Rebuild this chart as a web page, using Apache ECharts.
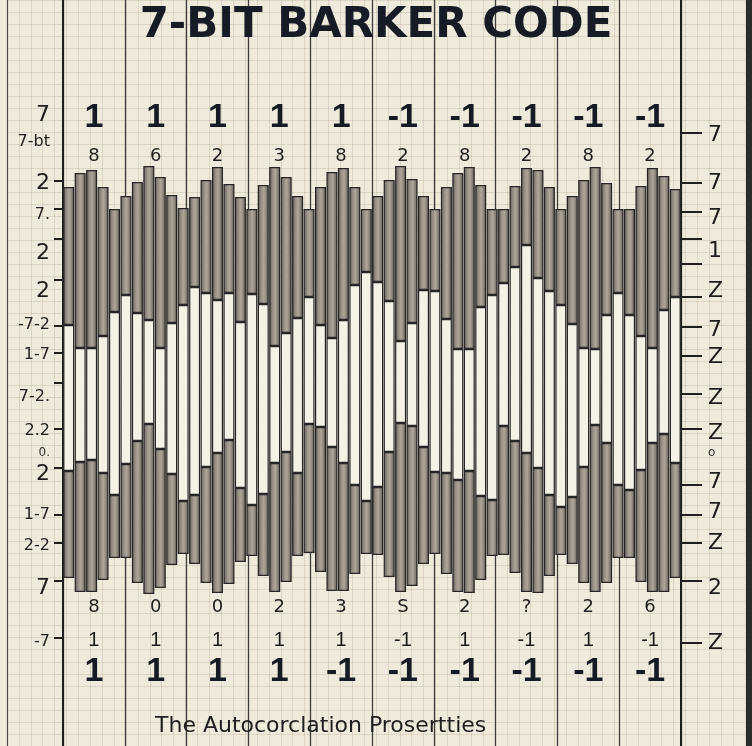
<!DOCTYPE html>
<html>
<head>
<meta charset="utf-8">
<script src="https://cdn.jsdelivr.net/npm/echarts@6/dist/echarts.min.js"></script>
<style>
  html, body { margin: 0; padding: 0; background: #efebdc; }
  #chart { width: 752px; height: 746px; }
</style>
</head>
<body>
<div id="chart"></div>
<script>
// ---------- DATA ----------
const titleText = '7-BIT BARKER CODE';
const subtitleText = 'The Autocorclation Prosertties';

// column labels (10 code columns)
const topCode      = ['1','1','1','1','1','-1','-1','-1','-1','-1'];
const topDigits    = ['8','6','2','3','8','2','8','2','8','2'];
const bottomDigits = ['8','0','0','2','3','S','2','?','2','6'];
const bottomSmall  = ['1','1','1','1','1','-1','1','-1','1','-1'];
const bottomCode   = ['1','1','1','1','-1','-1','-1','-1','-1','-1'];

// upper waveform: top and bottom level of each bar
const upperTop = [18.6,20.0,20.3,18.6,16.4,17.7,19.1,20.7,19.6,17.8,16.5,17.6,19.3,20.6,18.9,17.6,16.4,18.8,
                  20.6,19.6,17.7,16.4,18.6,20.1,20.5,18.6,16.4,17.7,19.3,20.7,19.4,17.7,16.4,18.6,20.0,20.6,
                  18.8,16.4,16.4,18.7,20.5,20.3,18.6,16.4,17.7,19.3,20.6,19.0,16.4,16.4,18.7,20.5,19.7,18.4];
const upperBottom = [4.8,2.5,2.5,3.7,6.1,7.8,6.0,5.3,2.5,5.0,6.8,8.6,8.0,7.3,8.0,5.1,7.9,6.9,
                     2.7,4.0,5.5,7.6,4.8,3.5,5.3,8.8,10.1,9.1,7.2,3.2,5.0,8.3,8.2,5.4,2.4,2.4,
                     6.6,7.8,9.0,10.6,12.8,9.5,8.2,6.8,4.9,2.5,2.4,5.8,8.0,5.8,3.7,2.5,6.3,7.6];
// lower waveform: top and bottom level of each bar
const lowerTop = [-9.8,-8.9,-8.7,-10.0,-12.2,-9.1,-6.8,-5.1,-7.6,-10.1,-12.8,-12.2,-9.4,-8.0,-6.7,-11.5,-13.2,-12.1,
                  -9.0,-7.9,-10.0,-5.1,-5.4,-7.4,-9.0,-11.2,-12.8,-11.4,-7.9,-5.0,-5.3,-7.4,-9.9,-10.0,-10.7,-9.8,
                  -12.3,-12.7,-5.3,-6.8,-8.0,-9.5,-12.2,-13.4,-12.4,-9.4,-5.2,-7.0,-11.2,-11.7,-9.7,-7.0,-6.1,-9.0];
const lowerBottom = [-20.5,-21.9,-21.9,-20.7,-18.5,-18.5,-21.0,-22.1,-21.5,-19.2,-18.1,-19.1,-21.0,-22.0,-21.1,-18.9,-18.3,-20.3,
                     -21.9,-20.9,-18.3,-18.0,-19.9,-21.8,-21.8,-20.1,-18.1,-18.2,-20.4,-21.9,-21.3,-19.1,-18.1,-20.1,-21.9,-22.0,
                     -20.7,-18.3,-18.2,-20.0,-21.9,-22.0,-20.3,-18.2,-19.1,-21.0,-21.9,-21.0,-18.5,-18.5,-20.9,-21.9,-21.9,-20.5];

// axis tick labels (left / right) and tick marks
const leftLabelVals  = [25.8, 23.1, 19.0, 15.8, 12.0, 8.2, 4.8, 1.8, -2.4, -5.8, -8.0, -10.1, -14.2, -17.3, -21.5, -26.9];
const leftLabelTexts = ['7','7-bt','2','7.','2','2','-7-2','1-7','7-2.','2.2','0.','2','1-7','2-2','7','-7'];
const leftTickVals   = [19.2, 16.4, 13.4, 9.3, 4.7, 2.0, -1.0, -5.6, -9.5, -14.2, -17.0, -20.8, -26.5];
const rightLabelVals  = [23.8, 19.0, 15.5, 12.2, 8.2, 4.3, 1.6, -2.5, -6.0, -8.0, -10.9, -13.9, -17.0, -21.5, -27.0];
const rightLabelTexts = ['7','7','7','1','Z','7','Z','Z','Z','o','7','7','Z','2','Z'];
const rightTickVals   = [24.0, 19.0, 16.1, 13.4, 10.9, 7.6, 4.6, 1.7, -2.1, -5.6, -11.2, -14.2, -17.0, -20.8, -27.0];

// ---------- BUILD ----------
const barCats = upperTop.map((_, i) => String(i + 1));
const colCats = topCode.map((_, i) => 'c' + (i + 1));
const lowerHeight = lowerTop.map((v, i) => +(v - lowerBottom[i]).toFixed(2));
const midHeight = upperBottom.map((v, i) => +(v - lowerTop[i]).toFixed(2));
const upperHeight = upperTop.map((v, i) => +(v - upperBottom[i]).toFixed(2));

function lookup(vals, texts) {
  return function (v) {
    let best = -1, bd = 1e9;
    vals.forEach((x, i) => { const d = Math.abs(x - v); if (d < bd) { bd = d; best = i; } });
    if (best < 0 || bd > 0.05) return '';
    const t = texts[best];
    if (t === '0.' || t === 'o') return '{s|' + t + '}';
    if (t.length === 1) return '{b|' + t + '}';
    return '{m|' + t + '}';
  };
}
const labelRich = {
  s: { fontSize: 12, color: '#333', fontFamily: 'DejaVu Sans' },
  m: { fontSize: 16, color: '#222', fontFamily: 'DejaVu Sans' },
  b: { fontSize: 22, color: '#1d1d1d', fontFamily: 'DejaVu Sans' }
};

const grayFill = {
  type: 'linear', x: 0, y: 0, x2: 1, y2: 0,
  colorStops: [
    { offset: 0, color: '#5f5a53' },
    { offset: 0.3, color: '#948e84' },
    { offset: 0.55, color: '#ada79b' },
    { offset: 0.8, color: '#857f75' },
    { offset: 1, color: '#535048' }
  ]
};
const border = { borderColor: '#262626', borderWidth: 1.2 };

const yMin = -37.3, yMax = 37.3;

const option = {
  backgroundColor: '#efebdc',
  animation: false,
  title: [
    { text: titleText, left: 'center', top: 0,
      textStyle: { fontFamily: 'DejaVu Sans', fontWeight: 'bold', fontSize: 42, color: '#161b26' } },
    { text: subtitleText, left: 150, top: 710,
      textStyle: { fontFamily: 'DejaVu Sans', fontWeight: 'normal', fontSize: 22, color: '#1e1e1e' } }
  ],
  grid: [
    { left: 7, right: 7, top: 0, bottom: 0 },
    { left: 63, right: 71, top: 0, bottom: 0 }
  ],
  xAxis: [
    { gridIndex: 0, type: 'value', min: 0, max: 62, interval: 1,
      axisLine: { show: false }, axisTick: { show: false }, axisLabel: { show: false },
      splitLine: { show: true, lineStyle: { color: 'rgba(110,100,80,0.16)', width: 1 } } },
    { gridIndex: 1, type: 'category', data: barCats, show: false },
    { gridIndex: 1, type: 'category', data: colCats, position: 'top',
      axisLine: { show: false }, axisTick: { show: false },
      splitLine: { show: true, lineStyle: { color: '#3d3d3d', width: 1.3 } },
      axisLabel: { inside: true, margin: 118, verticalAlign: 'middle', fontSize: 34, fontWeight: 'bold',
        fontFamily: 'Liberation Sans', color: '#151a25', formatter: (v, i) => topCode[i] } },
    { gridIndex: 1, type: 'category', data: colCats, position: 'top',
      axisLine: { show: false }, axisTick: { show: false },
      axisLabel: { inside: true, margin: 156, verticalAlign: 'middle', fontSize: 18,
        fontFamily: 'DejaVu Sans', color: '#222', formatter: (v, i) => topDigits[i] } },
    { gridIndex: 1, type: 'category', data: colCats, position: 'bottom',
      axisLine: { show: false }, axisTick: { show: false },
      axisLabel: { inside: true, margin: 139, verticalAlign: 'middle', fontSize: 18,
        fontFamily: 'DejaVu Sans', color: '#222', formatter: (v, i) => bottomDigits[i] } },
    { gridIndex: 1, type: 'category', data: colCats, position: 'bottom',
      axisLine: { show: false }, axisTick: { show: false },
      axisLabel: { inside: true, margin: 106, verticalAlign: 'middle', fontSize: 20,
        fontFamily: 'Liberation Sans', color: '#1a1a1a', formatter: (v, i) => bottomSmall[i] } },
    { gridIndex: 1, type: 'category', data: colCats, position: 'bottom',
      axisLine: { show: false }, axisTick: { show: false },
      axisLabel: { inside: true, margin: 74, verticalAlign: 'middle', fontSize: 34, fontWeight: 'bold',
        fontFamily: 'Liberation Sans', color: '#151a25', formatter: (v, i) => bottomCode[i] } }
  ],
  yAxis: [
    { gridIndex: 0, type: 'value', min: 0, max: 62, interval: 1,
      axisLine: { show: true, lineStyle: { color: '#4a4a4a', width: 1.2 } },
      axisTick: { show: false }, axisLabel: { show: false },
      splitLine: { show: true, lineStyle: { color: 'rgba(110,100,80,0.16)', width: 1 } } },
    { gridIndex: 1, type: 'value', min: yMin, max: yMax, position: 'left',
      axisLine: { show: true, lineStyle: { color: '#1f1f1f', width: 2 } },
      axisTick: { show: true, customValues: leftTickVals, length: 9, lineStyle: { color: '#1f1f1f', width: 2 } },
      axisLabel: { customValues: leftLabelVals, margin: 13, formatter: lookup(leftLabelVals, leftLabelTexts), rich: labelRich },
      splitLine: { show: false } },
    { gridIndex: 1, type: 'value', min: yMin, max: yMax, position: 'right',
      axisLine: { show: true, lineStyle: { color: '#1f1f1f', width: 2 } },
      axisTick: { show: true, customValues: rightTickVals, length: 21, lineStyle: { color: '#1f1f1f', width: 2 } },
      axisLabel: { customValues: rightLabelVals, margin: 27, formatter: lookup(rightLabelVals, rightLabelTexts), rich: labelRich },
      splitLine: { show: false } }
  ],
  series: [
    { type: 'bar', xAxisIndex: 1, yAxisIndex: 1, stack: 'w', stackStrategy: 'all', silent: true,
      barCategoryGap: '4%', data: lowerBottom, itemStyle: { color: 'rgba(0,0,0,0)', borderWidth: 0 } },
    { type: 'bar', xAxisIndex: 1, yAxisIndex: 1, stack: 'w', stackStrategy: 'all',
      barCategoryGap: '4%', data: lowerHeight, itemStyle: Object.assign({ color: grayFill }, border) },
    { type: 'bar', xAxisIndex: 1, yAxisIndex: 1, stack: 'w', stackStrategy: 'all',
      barCategoryGap: '4%', data: midHeight, itemStyle: Object.assign({ color: '#f4f1e7' }, border) },
    { type: 'bar', xAxisIndex: 1, yAxisIndex: 1, stack: 'w', stackStrategy: 'all',
      barCategoryGap: '4%', data: upperHeight, itemStyle: Object.assign({ color: grayFill }, border) }
  ],
  graphic: [
    { type: 'rect', right: 0, top: 0, shape: { width: 6, height: 746 }, style: { fill: '#2b2b2b' }, silent: true }
  ]
};

const chart = echarts.init(document.getElementById('chart'), null, { renderer: 'canvas' });
chart.setOption(option);
</script>
</body>
</html>
